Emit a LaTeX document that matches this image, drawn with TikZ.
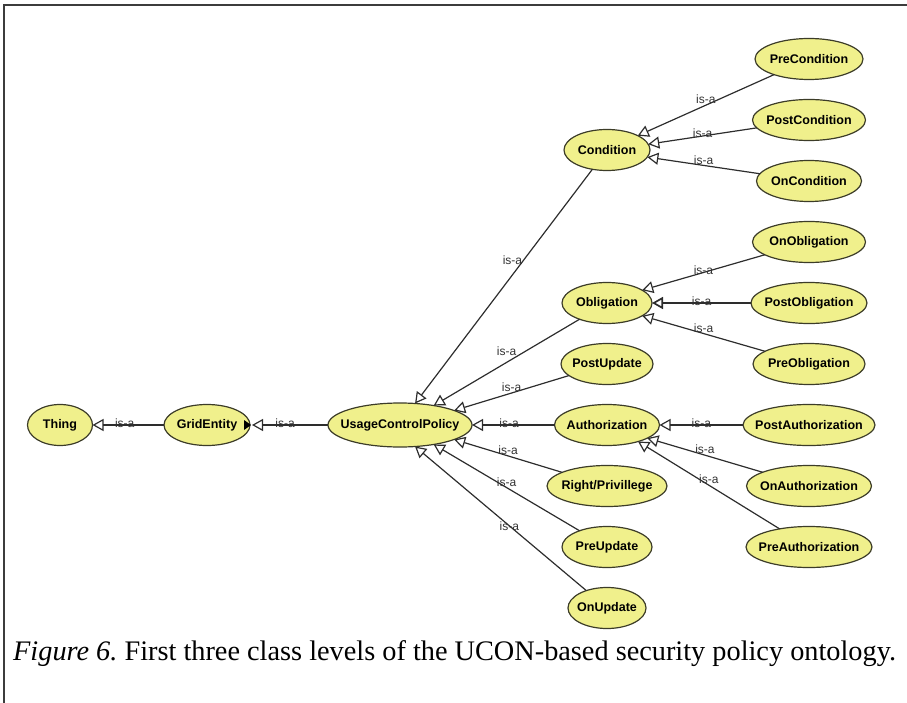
\documentclass[tikz,border=0pt]{standalone}
\usepackage{fontspec}
\setmainfont{Liberation Serif}
\newfontfamily\clsfamily{Liberation Sans}
\usetikzlibrary{shapes.geometric,positioning,arrows.meta}

\definecolor{clsfill}{RGB}{240,240,140}
\definecolor{clsline}{RGB}{60,60,40}
\definecolor{edgecol}{RGB}{45,45,45}
\definecolor{lblcol}{RGB}{50,50,50}
\definecolor{framecol}{RGB}{60,60,60}

\tikzset{
  cls/.style={ellipse, draw=clsline, fill=clsfill, line width=1.2pt, outer sep=0pt,
    minimum width=#1, minimum height=41pt, inner xsep=-25pt, inner ysep=0pt,
    font=\clsfamily\bfseries\fontsize{12.5}{14}\selectfont},
  isa/.style={draw=edgecol, line width=1.2pt,
    >={Triangle[open, length=11pt, width=12pt]}, <-},
  lbl/.style={font=\clsfamily\fontsize{12}{13}\selectfont, text=lblcol, inner sep=0.5pt},
}

\begin{document}
\begin{tikzpicture}[x=1pt, y=-1pt]
  \useasboundingbox (0,0) rectangle (907,703);
  \draw[framecol, line width=2pt] (907,5) -- (4,5) -- (4,703);

  % root chain
  \node[cls=65pt] (thing) at (60,425) {Thing};
  \node[cls=86pt] (gridentity) at (207,425) {GridEntity};
  \node[cls=144pt, minimum height=44pt] (ucp) at (400,425) {UsageControlPolicy};
  \fill[black] ([xshift=-6pt, yshift=5pt]gridentity.east) -- ([xshift=1pt]gridentity.east)
    -- ([xshift=-6pt, yshift=-5pt]gridentity.east) -- cycle;

  % second level
  \node[cls=86pt] (condition) at (607,150) {Condition};
  \node[cls=90pt] (oblig) at (607,303) {Obligation};
  \node[cls=92pt, below=20pt of oblig] (postupdate) {PostUpdate};
  \node[cls=105pt, below=20pt of postupdate] (authz) {Authorization};
  \node[cls=120pt, below=20pt of authz] (right) {Right/Privillege};
  \node[cls=90pt, below=20pt of right] (preupdate) {PreUpdate};
  \node[cls=78pt, below=20pt of preupdate] (onupdate) {OnUpdate};

  % third level
  \node[cls=108pt] (precond) at (809,59) {PreCondition};
  \node[cls=113pt, below=20pt of precond] (postcond) {PostCondition};
  \node[cls=105pt, below=20pt of postcond] (oncond) {OnCondition};
  \node[cls=113pt, below=20pt of oncond] (onoblig) {OnObligation};
  \node[cls=116pt, below=20pt of onoblig] (postoblig) {PostObligation};
  \node[cls=112pt, below=20pt of postoblig] (preoblig) {PreObligation};
  \node[cls=132pt, below=20pt of preoblig] (postauthz) {PostAuthorization};
  \node[cls=125pt, below=20pt of postauthz] (onauthz) {OnAuthorization};
  \node[cls=126pt, below=20pt of onauthz] (preauthz) {PreAuthorization};

  \draw[isa] (thing) -- node[lbl, pos=0.45, yshift=2pt] {is-a} (gridentity);
  \draw[isa, shorten <=2pt] (gridentity) -- node[lbl, pos=0.45, yshift=2pt] {is-a} (ucp);

  \draw[isa] (ucp.55) -- node[lbl, pos=0.61, anchor=east] {is-a} (condition);
  \draw[isa] (ucp.30) -- node[lbl, pos=0.5, above=6pt] {is-a} (oblig);
  \draw[isa] (ucp.15) -- node[lbl, pos=0.5, anchor=south] {is-a} (postupdate);
  \draw[isa] (ucp) -- node[lbl, pos=0.45, yshift=2pt] {is-a} (authz);
  \draw[isa] (ucp.-15) -- node[lbl, pos=0.5, anchor=south] {is-a} (right);
  \draw[isa] (ucp.-30) -- node[lbl, pos=0.5, anchor=south] {is-a} (preupdate);
  \draw[isa] (ucp.-55) -- node[lbl, pos=0.55] {is-a} (onupdate);

  \draw[isa] (condition.25) -- node[lbl, pos=0.5, anchor=south] {is-a} (precond);
  \draw[isa] (condition.8) -- node[lbl, pos=0.5, yshift=3pt] {is-a} (postcond);
  \draw[isa] (condition.-10) -- node[lbl, pos=0.5, anchor=south] {is-a} (oncond);
  \draw[isa] (oblig.20) -- node[lbl, pos=0.5, yshift=2pt] {is-a} (onoblig);
  \draw[isa, line width=1.7pt] (oblig) -- node[lbl, pos=0.5, yshift=2pt] {is-a} (postoblig);
  \draw[isa] (oblig.-20) -- node[lbl, pos=0.5, anchor=south] {is-a} (preoblig);
  \draw[isa] (authz) -- node[lbl, pos=0.5, yshift=2pt] {is-a} (postauthz);
  \draw[isa] (authz.-18) -- node[lbl, pos=0.5, anchor=south] {is-a} (onauthz);
  \draw[isa] (authz.-28) -- node[lbl, pos=0.5, anchor=south] {is-a} (preauthz);

  \node[anchor=base west, inner sep=0pt, font=\fontsize{28.3}{32}\selectfont] (caption) at (13,660)
    {\textit{Figure 6.}\ First three class levels of the UCON-based security policy ontology.};
\end{tikzpicture}
\end{document}
